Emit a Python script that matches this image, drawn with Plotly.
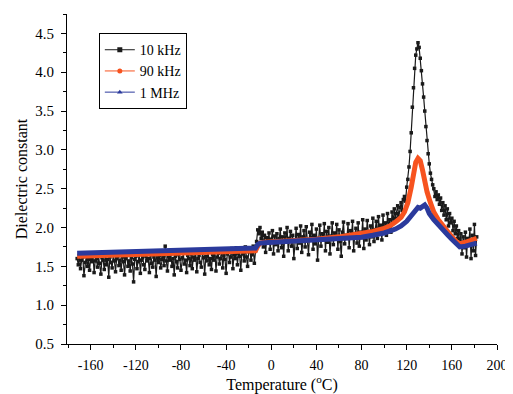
import plotly.graph_objects as go

# 10 kHz: one reading per degC from -172 to 182
temp_10k = list(range(-172, 183))
eps_10k = [
    1.60, 1.52, 1.64, 1.47, 1.58, 1.62, 1.38, 1.55, 1.63, 1.50, 1.59, 1.45, 1.61, 1.56, 1.66, 1.42, 1.57, 1.60, 1.49, 1.63,
    1.54, 1.40, 1.61, 1.58, 1.46, 1.64, 1.52, 1.59, 1.36, 1.62, 1.55, 1.48, 1.65, 1.57, 1.43, 1.60, 1.63, 1.51, 1.58, 1.45,
    1.62, 1.56, 1.39, 1.60, 1.64, 1.50, 1.57, 1.44, 1.61, 1.53, 1.30, 1.59, 1.63, 1.47, 1.56, 1.66, 1.41, 1.58, 1.61, 1.52,
    1.46, 1.63, 1.57, 1.60, 1.42, 1.65, 1.54, 1.49, 1.62, 1.58, 1.37, 1.61, 1.55, 1.64, 1.48, 1.59, 1.63, 1.51, 1.76, 1.57,
    1.44, 1.62, 1.58, 1.66, 1.50, 1.60, 1.39, 1.63, 1.56, 1.48, 1.65, 1.59, 1.45, 1.61, 1.67, 1.53, 1.58, 1.42, 1.64, 1.60,
    1.51, 1.66, 1.47, 1.62, 1.58, 1.69, 1.43, 1.60, 1.64, 1.55, 1.49, 1.67, 1.61, 1.40, 1.63, 1.57, 1.70, 1.52, 1.60, 1.46,
    1.65, 1.58, 1.71, 1.44, 1.62, 1.67, 1.53, 1.60, 1.72, 1.48, 1.64, 1.59, 1.41, 1.66, 1.70, 1.55, 1.62, 1.73, 1.47, 1.65,
    1.60, 1.74, 1.52, 1.67, 1.63, 1.45, 1.70, 1.66, 1.57, 1.75, 1.62, 1.50, 1.69, 1.72, 1.58, 1.65, 1.76, 1.54, 1.70, 1.82,
    1.97, 1.92, 2.00, 1.86, 1.94, 1.75, 1.90, 1.68, 1.87, 1.80, 1.93, 1.72, 1.85, 1.96, 1.66, 1.89, 1.78, 1.92, 1.70, 1.86,
    1.98, 1.74, 1.88, 1.63, 1.93, 1.82, 2.00, 1.70, 1.86, 1.95, 1.76, 1.90, 1.60, 1.84, 1.99, 1.73, 1.91, 1.80, 2.02, 1.68,
    1.88, 1.96, 1.75, 2.01, 1.83, 1.65, 1.94, 1.87, 2.04, 1.72, 1.90, 1.79, 1.98, 1.58, 1.86, 2.03, 1.76, 1.92, 1.84, 2.05,
    1.70, 1.95, 1.81, 2.00, 1.66, 1.89, 2.06, 1.78, 1.93, 1.85, 2.04, 1.72, 1.97, 1.82, 1.63, 1.94, 2.07, 1.79, 1.90, 1.86,
    2.05, 1.74, 1.96, 1.88, 2.08, 1.70, 1.92, 1.99, 1.80, 2.06, 1.76, 1.94, 1.87, 2.10, 1.73, 1.98, 1.84, 2.09, 1.90, 1.78,
    2.02, 1.88, 2.12, 1.82, 1.97, 2.08, 1.86, 2.14, 1.92, 2.03, 1.84, 2.16, 1.95, 2.06, 1.90, 2.18, 2.00, 2.10, 1.94, 2.20,
    2.06, 2.24, 2.12, 2.18, 2.28, 2.14, 2.26, 2.32, 2.22, 2.36, 2.40, 2.34, 2.52, 2.62, 2.78, 2.98, 3.22, 3.55, 3.80, 4.05,
    4.22, 4.30, 4.38, 4.32, 4.18, 4.02, 3.85, 3.68, 3.50, 3.30, 3.12, 2.95, 2.82, 2.70, 2.62, 2.55, 2.50, 2.40, 2.46, 2.36,
    2.42, 2.30, 2.38, 2.22, 2.32, 2.16, 2.28, 2.10, 2.24, 2.02, 2.18, 2.06, 2.12, 1.96, 2.08, 1.92, 2.02, 1.86, 1.96, 1.78,
    1.92, 1.66, 1.88, 1.74, 1.94, 1.62, 1.86, 1.80, 1.98, 1.60, 1.90, 1.70, 2.04, 1.64, 1.88,
]

# 90 kHz
temp_90k = [-172, -150, -120, -90, -60, -30, -14, -12, -10, -6, 0, 20, 40, 60, 80, 90,
            100, 105, 110, 115, 118, 121, 124, 126, 128, 130, 132, 134, 136, 138,
            141, 144, 148, 152, 156, 160, 164, 167, 172, 178, 182]
eps_90k = [1.63, 1.64, 1.655, 1.67, 1.68, 1.69, 1.70, 1.76, 1.80, 1.81, 1.815, 1.83, 1.85, 1.88, 1.92, 1.95,
           1.99, 2.02, 2.07, 2.13, 2.20, 2.32, 2.52, 2.72, 2.84, 2.89, 2.86, 2.74, 2.58, 2.46,
           2.32, 2.20, 2.10, 2.02, 1.95, 1.88, 1.82, 1.79, 1.81, 1.84, 1.86]

# 1 MHz
temp_1m = [-172, -150, -120, -90, -60, -30, -14, -12, -10, -6, 0, 20, 40, 60, 80, 90,
           100, 110, 115, 120, 124, 127, 130, 132, 134, 136, 138, 140, 144, 148,
           152, 156, 160, 164, 167, 172, 178, 182]
eps_1m = [1.67, 1.68, 1.695, 1.705, 1.715, 1.725, 1.735, 1.78, 1.80, 1.805, 1.81, 1.82, 1.835, 1.85, 1.875, 1.90,
          1.93, 1.98, 2.02, 2.08, 2.15, 2.22, 2.26, 2.25, 2.27, 2.29, 2.25, 2.18, 2.10, 2.03,
          1.97, 1.91, 1.85, 1.79, 1.75, 1.76, 1.78, 1.80]

series_names = ['10 kHz', '90 kHz', '1 MHz']
series_colors = ['#1a1a1a', '#f7531f', '#2b3a9c']
series_symbols = ['square', 'circle', 'triangle-up']

x_tick_vals = [-160, -120, -80, -40, 0, 40, 80, 120, 160, 200]
x_tick_text = ['-160', '-120', '-80', '-40', '0', '40', '80', '120', '160', '200']

font_family = 'Liberation Serif, Times New Roman, serif'

fig = go.Figure()
fig.add_trace(go.Scatter(
    x=temp_10k, y=eps_10k,
    mode='lines+markers', showlegend=False,
    line=dict(width=1.2, color=series_colors[0]),
    marker=dict(symbol='square', size=3.5, color=series_colors[0])
))
fig.add_trace(go.Scatter(
    x=temp_90k, y=eps_90k,
    mode='lines', showlegend=False,
    line=dict(width=5, color=series_colors[1])
))
fig.add_trace(go.Scatter(
    x=temp_1m, y=eps_1m,
    mode='lines', showlegend=False,
    line=dict(width=5, color=series_colors[2])
))

# legend entries: thin line with a marker, as in the original
for name, color, symbol in zip(series_names, series_colors, series_symbols):
    fig.add_trace(go.Scatter(
        x=[None], y=[None],
        mode='lines+markers', name=name,
        line=dict(width=1, color=color),
        marker=dict(symbol=symbol, size=5, color=color)
    ))

fig.update_xaxes(
    range=[-181, 200], automargin=False,
    tickvals=x_tick_vals, ticktext=x_tick_text,
    ticks='outside', ticklen=5, tickcolor='black', ticklabelstandoff=3,
    minor=dict(dtick=20, ticks='outside', ticklen=3, tickcolor='black'),
    showline=True, linecolor='black', linewidth=1,
    showgrid=False, zeroline=False,
    tickfont=dict(size=14, color='black'),
    title=dict(text='Temperature (<sup>o</sup>C)', font=dict(size=16, color='black'), standoff=3)
)
fig.update_yaxes(
    range=[0.5, 4.75], automargin=False,
    tick0=0.5, dtick=0.5, tickformat='.1f',
    ticks='outside', ticklen=5, tickcolor='black', ticklabelstandoff=4,
    minor=dict(dtick=0.25, ticks='outside', ticklen=3, tickcolor='black'),
    showline=True, linecolor='black', linewidth=1,
    showgrid=False, zeroline=False,
    tickfont=dict(size=15, color='black'),
    title=dict(text='Dielectric constant', font=dict(size=16, color='black'), standoff=3)
)
# the page adds an 8px body margin at top/left, so the figure is 8px smaller than the window
fig.update_layout(
    width=505, height=386,
    margin=dict(l=59, r=16, t=6, b=50),
    plot_bgcolor='white',
    paper_bgcolor='white',
    font=dict(family=font_family, color='black'),
    legend=dict(
        x=0.074, y=0.942, xanchor='left', yanchor='top',
        bordercolor='black', borderwidth=1, bgcolor='white',
        font=dict(size=14), itemwidth=30, tracegroupgap=0
    )
)

fig.write_html("out.html")
